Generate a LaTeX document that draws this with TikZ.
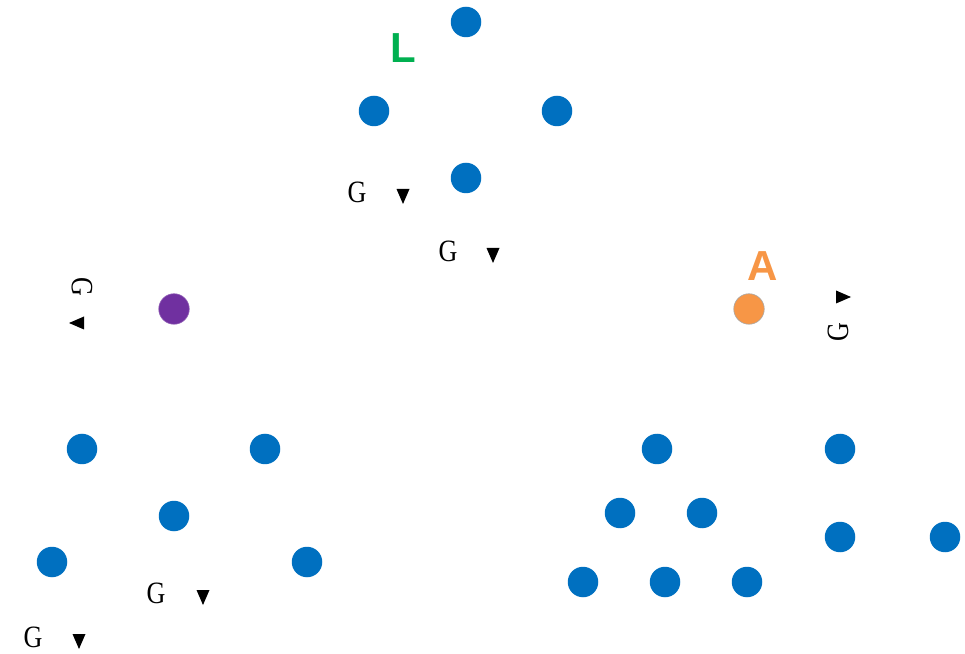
\documentclass[tikz,border=0pt]{standalone}
\usepackage{fontspec}
\setmainfont{Liberation Serif}
\newfontfamily\labfont{Liberation Sans}
\definecolor{dotblue}{HTML}{0070C0}
\definecolor{dotpurple}{HTML}{7030A0}
\definecolor{dotorange}{HTML}{F79646}
\definecolor{lgreen}{HTML}{00B050}
\tikzset{
  dot/.style={circle, minimum size=30.5pt, inner sep=0pt, fill=#1},
  dot/.default=dotblue,
  glabel/.style={inner sep=0pt, font=\fontsize{31}{31}\selectfont},
  biglabel/.style={inner sep=0pt, font=\labfont\bfseries\fontsize{42}{42}\selectfont},
  tri/.pic={\fill[black] (-6.5,7) -- (6.5,7) -- (0,-8) -- cycle;}
}
\begin{document}
\begin{tikzpicture}[x=1pt,y=1pt]
\useasboundingbox (0,0) rectangle (965,653);
% top group
\node[dot] (t1) at (466,631) {};
\node[dot] (t2) at (374,542) {};
\node[dot] (t3) at (557,542) {};
\node[dot] (t4) at (466,475) {};
% single dots
\node[dot=dotpurple, draw=dotpurple!80!white, line width=0.6pt] (p) at (174,344) {};
\node[dot=dotorange, draw=gray!70, line width=0.6pt] (o) at (749,344) {};
% bottom left
\node[dot] (bl1) at (82,204) {};
\node[dot] (bl2) at (265,204) {};
\node[dot] (bl3) at (174,137) {};
\node[dot] (bl4) at (52,91) {};
\node[dot] (bl5) at (307,91) {};
% bottom right
\node[dot] (br1) at (657,204) {};
\node[dot] (br2) at (840,204) {};
\node[dot] (br3) at (620,140) {};
\node[dot] (br4) at (702,140) {};
\node[dot] (br5) at (840,116) {};
\node[dot] (br6) at (945,116) {};
\node[dot] (br7) at (583,71) {};
\node[dot] (br8) at (665,71) {};
\node[dot] (br9) at (747,71) {};
% big letters
\node[biglabel, text=lgreen] (L) at (403,605) {L};
\node[biglabel, text=dotorange] (A) at (763,387) {A};
% G labels with triangles
\node[glabel] (g1) at (357,461) {\scalebox{0.84}[1]{G}};
\pic at (403,457) {tri};
\node[glabel] (g2) at (448,402) {\scalebox{0.84}[1]{G}};
\pic at (493,398) {tri};
\node[glabel] (g3) at (156,60) {\scalebox{0.84}[1]{G}};
\pic at (203,56) {tri};
\node[glabel] (g4) at (33,16) {\scalebox{0.84}[1]{G}};
\pic at (79,12) {tri};
% rotated
\node[glabel, rotate=-90] (g5) at (82,366) {\scalebox{0.84}[1]{G}};
\pic[rotate=-90] at (77,330) {tri};
\node[glabel, rotate=90] (g6) at (838,321) {\scalebox{0.84}[1]{G}};
\pic[rotate=90] at (843,356) {tri};
\end{tikzpicture}
\end{document}
